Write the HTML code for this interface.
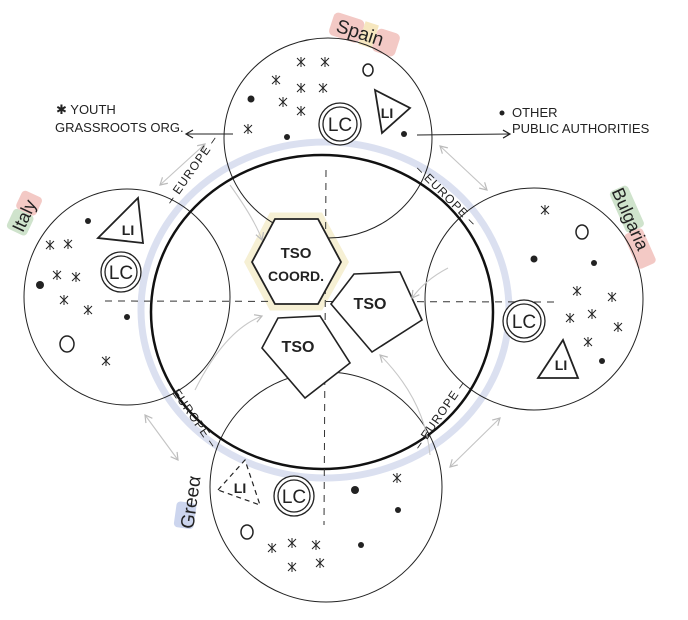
<!DOCTYPE html>
<html><head><meta charset="utf-8"><style>
html,body{margin:0;padding:0;background:#fff;}
svg{display:block;}
text{font-family:"Liberation Sans Narrow","Liberation Sans",sans-serif;fill:#222;}
</style></head><body>
<svg width="688" height="620" viewBox="0 0 688 620" xmlns="http://www.w3.org/2000/svg">
<defs>
<marker id="ah" markerWidth="10" markerHeight="10" refX="8" refY="5" orient="auto" markerUnits="userSpaceOnUse"><path d="M1,1 L8,5 L1,9" fill="none" stroke="#222" stroke-width="1.2"/></marker>
<marker id="ag" markerWidth="10" markerHeight="10" refX="8" refY="5" orient="auto-start-reverse" markerUnits="userSpaceOnUse"><path d="M1,1 L8,5 L1,9" fill="none" stroke="#bbb" stroke-width="1.2"/></marker>
<g id="st"><path d="M-4,-4L4,4M4,-4L-4,4M0,-5L0,5" stroke="#222" stroke-width="1"/></g>
</defs>

<g transform="translate(360,32) rotate(18)">
<rect x="-30" y="-12" width="32" height="24" rx="5" fill="#f3c9c5"/>
<rect x="2" y="-12" width="14" height="24" fill="#f6e7bf"/>
<rect x="16" y="-10" width="24" height="24" rx="5" fill="#f3c9c5"/>
<text x="-24" y="7" font-size="19">Spain</text></g>
<g transform="translate(24,214) rotate(-65)">
<rect x="-20" y="-11" width="22" height="22" rx="4" fill="#cfe3cc"/>
<rect x="2" y="-11" width="20" height="22" rx="4" fill="#f3c9c5"/>
<text x="-18" y="7" font-size="18">Italy</text></g>
<g transform="translate(634,225) rotate(66)">
<rect x="-40" y="-10" width="45" height="20" rx="4" fill="#cfe3cc"/>
<rect x="5" y="-6" width="38" height="20" rx="4" fill="#f3c9c5"/>
<text x="-40" y="7" font-size="18">Bulgaria</text></g>
<g transform="translate(192,495) rotate(-82)">
<rect x="-34" y="-14" width="26" height="20" rx="4" fill="#ccd5ee"/>
<text x="-34" y="6" font-size="19">Greeα</text></g>

<ellipse cx="325" cy="310" rx="184" ry="168" fill="none" stroke="#dbe0f0" stroke-width="7"/>

<polygon points="248,262 272,216 320,216 345,262 320,307 272,307" fill="#fcf8e6" stroke="#f6f0d4" stroke-width="7"/>

<g fill="none" stroke="#222" stroke-width="1">
<ellipse cx="328" cy="138" rx="104" ry="100"/>
<ellipse cx="127" cy="297" rx="103" ry="108"/>
<ellipse cx="534" cy="299" rx="109" ry="111"/>
<ellipse cx="326" cy="487" rx="116" ry="115"/>
</g>
<ellipse cx="322" cy="312" rx="171" ry="157" fill="none" stroke="#111" stroke-width="2.5"/>

<line x1="326" y1="170" x2="324" y2="525" stroke="#333" stroke-width="1" stroke-dasharray="7,6"/>
<line x1="105" y1="301" x2="560" y2="302" stroke="#333" stroke-width="1" stroke-dasharray="7,6"/>

<polygon points="252,262 275,219 318,219 341,262 318,304 275,304" fill="#fff" stroke="#222" stroke-width="1.8"/>
<text x="296" y="258" font-size="15" text-anchor="middle" font-weight="bold">TSO</text>
<text x="296" y="281" font-size="14" text-anchor="middle" font-weight="bold">COORD.</text>
<polygon points="354,274 400,272 422,320 372,352 331,304" fill="#fff" stroke="#222" stroke-width="1.6"/>
<text x="370" y="309" font-size="16" text-anchor="middle" font-weight="bold">TSO</text>
<polygon points="278,318 320,316 350,363 305,398 262,348" fill="#fff" stroke="#222" stroke-width="1.6"/>
<text x="298" y="352" font-size="16" text-anchor="middle" font-weight="bold">TSO</text>

<g fill="none" stroke="#c4c4c4" stroke-width="1.1" marker-start="url(#ag)" marker-end="url(#ag)">
<line x1="205" y1="144" x2="160" y2="185"/>
<line x1="440" y1="146" x2="487" y2="190"/>
<line x1="145" y1="415" x2="178" y2="460"/>
<line x1="500" y1="418" x2="450" y2="467"/>
</g>
<g fill="none" stroke="#c8c8c8" stroke-width="1.1" marker-end="url(#ag)">
<path d="M230,185 Q255,220 262,240"/>
<path d="M448,268 Q425,280 412,298"/>
<path d="M195,390 Q225,330 262,316"/>
<path d="M430,455 Q425,400 380,355"/>
</g>

<text font-size="12" letter-spacing="1" transform="translate(172,205) rotate(-55)">– EUROPE –</text>
<text font-size="12" letter-spacing="1" transform="translate(415,170) rotate(45)">– EUROPE –</text>
<text font-size="12" letter-spacing="1" transform="translate(205,440) rotate(-125) scale(-1,-1) translate(-70,0)">– EUROPE –</text>
<text font-size="12" letter-spacing="1" transform="translate(420,450) rotate(-55)">– EUROPE –</text>

<text x="56" y="114" font-size="13">✱ YOUTH</text>
<text x="55" y="132" font-size="13">GRASSROOTS ORG.</text>
<line x1="233" y1="134" x2="186" y2="134" stroke="#222" stroke-width="1" marker-end="url(#ah)"/>
<circle cx="502" cy="113" r="2.5" fill="#222"/>
<text x="512" y="117" font-size="13">OTHER</text>
<text x="512" y="133" font-size="13">PUBLIC AUTHORITIES</text>
<line x1="417" y1="135" x2="510" y2="134" stroke="#222" stroke-width="1" marker-end="url(#ah)"/>

<g fill="#fff" stroke="#222" stroke-width="1.3">
<circle cx="340" cy="124" r="21"/><circle cx="340" cy="124" r="17"/>
<circle cx="121" cy="272" r="20"/><circle cx="121" cy="272" r="16"/>
<circle cx="524" cy="321" r="21"/><circle cx="524" cy="321" r="17"/>
<circle cx="294" cy="496" r="20"/><circle cx="294" cy="496" r="16"/>
</g>
<g font-size="19" text-anchor="middle">
<text x="340" y="131">LC</text><text x="121" y="279">LC</text><text x="524" y="328">LC</text><text x="294" y="503">LC</text>
</g>

<g fill="#fff" stroke="#222" stroke-width="1.8">
<polygon points="375,90 410,108 382,133"/>
<polygon points="98,238 138,198 143,243"/>
<polygon points="538,378 563,340 578,378"/>
</g>
<polygon points="218,490 245,460 260,505" fill="#fff" stroke="#222" stroke-width="1.2" stroke-dasharray="5,4"/>
<g font-size="14" font-weight="bold" text-anchor="middle">
<text x="387" y="118">LI</text><text x="128" y="235">LI</text><text x="561" y="370">LI</text><text x="240" y="493">LI</text>
</g>

<g>
<use href="#st" x="301" y="62"/><use href="#st" x="325" y="62"/><use href="#st" x="276" y="80"/><use href="#st" x="301" y="88"/><use href="#st" x="323" y="88"/><use href="#st" x="283" y="102"/><use href="#st" x="301" y="111"/><use href="#st" x="248" y="129"/>
<use href="#st" x="50" y="245"/><use href="#st" x="68" y="244"/><use href="#st" x="57" y="275"/><use href="#st" x="76" y="277"/><use href="#st" x="64" y="300"/><use href="#st" x="88" y="310"/><use href="#st" x="106" y="361"/>
<use href="#st" x="545" y="210"/><use href="#st" x="577" y="291"/><use href="#st" x="612" y="297"/><use href="#st" x="570" y="318"/><use href="#st" x="592" y="314"/><use href="#st" x="618" y="327"/><use href="#st" x="588" y="342"/>
<use href="#st" x="397" y="478"/><use href="#st" x="272" y="548"/><use href="#st" x="292" y="543"/><use href="#st" x="316" y="545"/><use href="#st" x="292" y="567"/><use href="#st" x="320" y="563"/>
</g>
<g fill="#222">
<circle cx="251" cy="99" r="3.5"/><circle cx="287" cy="137" r="3"/><circle cx="404" cy="134" r="3"/>
<circle cx="88" cy="221" r="3"/><circle cx="40" cy="285" r="4"/><circle cx="127" cy="317" r="3"/>
<circle cx="534" cy="259" r="3.5"/><circle cx="594" cy="263" r="3"/><circle cx="602" cy="361" r="3"/>
<circle cx="355" cy="490" r="4"/><circle cx="398" cy="510" r="3"/><circle cx="361" cy="545" r="3"/>
</g>
<g fill="none" stroke="#222" stroke-width="1.5">
<ellipse cx="368" cy="70" rx="5" ry="6"/>
<ellipse cx="67" cy="344" rx="7" ry="8"/>
<ellipse cx="582" cy="232" rx="6" ry="7"/>
<ellipse cx="247" cy="532" rx="6" ry="7"/>
</g>
</svg>
</body></html>
